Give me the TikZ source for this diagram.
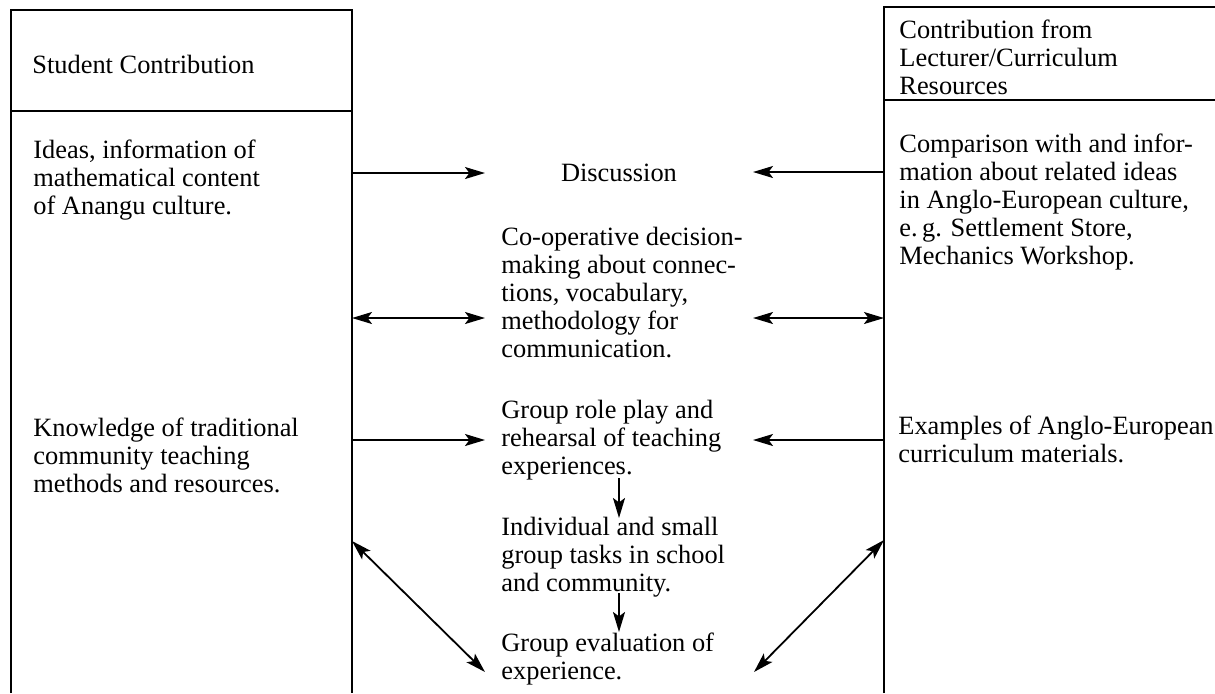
\documentclass[tikz,border=0pt]{standalone}
\usepackage{fontspec}
\setmainfont{Liberation Serif}
\usetikzlibrary{arrows.meta}
\tikzset{
  boxline/.style={line width=1pt},
  conn/.style={line width=0.9pt,-{Stealth[length=10pt,width=6pt,inset=2.2pt]}},
  bconn/.style={line width=0.9pt,{Stealth[length=10pt,width=6pt,inset=2.2pt]}-{Stealth[length=10pt,width=6pt,inset=2.2pt]}},
  txt/.style={anchor=north west,inner sep=0pt,align=left,font=\fontsize{13.2}{14}\selectfont},
}
\begin{document}
\begin{tikzpicture}[x=0.5pt,y=-0.5pt]
\path[use as bounding box] (0,0) rectangle (1215,693);
% boxes
\draw[boxline] (11,693) -- (11,10) -- (352,10) -- (352,693);
\draw[boxline] (11,111) -- (352,111);
\draw[boxline] (884,693) -- (884,7) -- (1215,7);
\draw[boxline] (884,100) -- (1215,100);
% left column
\node[txt] (sh) at (32,53) {\strut Student Contribution};
\node[txt] (s1) at (33,138) {\strut Ideas, information of\\mathematical content\\of Anangu culture.};
\node[txt] (s2) at (33,416) {\strut Knowledge of traditional\\community teaching\\methods and resources.};
% right column
\node[txt] (lh) at (899,18) {\strut Contribution from\\Lecturer/Curriculum\\Resources};
\node[txt] (l1) at (899,132) {\strut Comparison with and infor-\\mation about related ideas\\in Anglo-European culture,\\e.\,g. Settlement Store,\\Mechanics Workshop.};
\node[txt] (l2) at (898,414) {\strut Examples of Anglo-European\\curriculum materials.};
% centre column
\node[txt,anchor=center] (disc) at (619,173) {Discussion};
\node[txt] (coop) at (501,225) {\strut Co-operative decision-\\making about connec-\\tions, vocabulary,\\methodology for\\communication.};
\node[txt] (role) at (501,398) {\strut Group role play and\\rehearsal of teaching\\experiences.};
\node[txt] (indiv) at (501,515) {\strut Individual and small\\group tasks in school\\and community.};
\node[txt] (eval) at (501,631) {\strut Group evaluation of\\experience.};
% connector end points
\coordinate (sA) at (352,173);
\coordinate (dA) at (485,173);
\coordinate (lA) at (884,172);
\coordinate (rA) at (753,172);
\coordinate (sB) at (352,318);
\coordinate (dB) at (485,318);
\coordinate (lB) at (884,318);
\coordinate (rB) at (753,318);
\coordinate (sC) at (352,440);
\coordinate (dC) at (485,440);
\coordinate (lC) at (884,440);
\coordinate (rC) at (753,440);
\coordinate (v1a) at (619,478);
\coordinate (v1b) at (619,518);
\coordinate (v2a) at (619,593);
\coordinate (v2b) at (619,632);
\coordinate (sD) at (352,541);
\coordinate (dD) at (485,672);
\coordinate (lD) at (884,540);
\coordinate (rD) at (754,672);
% connectors
\draw[conn] (sA) -- (dA);
\draw[conn] (lA) -- (rA);
\draw[bconn] (sB) -- (dB);
\draw[bconn] (rB) -- (lB);
\draw[conn] (sC) -- (dC);
\draw[conn] (lC) -- (rC);
\draw[conn] (v1a) -- (v1b);
\draw[conn] (v2a) -- (v2b);
\draw[bconn] (sD) -- (dD);
\draw[bconn] (rD) -- (lD);
\end{tikzpicture}
\end{document}
